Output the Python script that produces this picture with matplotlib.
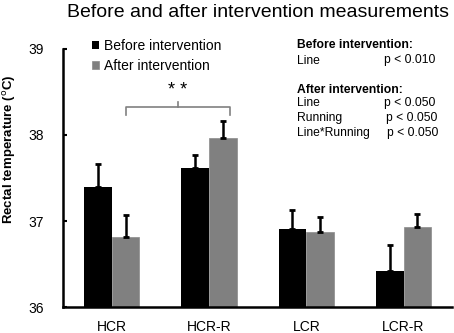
import matplotlib
matplotlib.use("Agg")
import matplotlib.pyplot as plt
import numpy as np

plt.rcParams['font.family'] = ['Liberation Sans', 'DejaVu Sans']

categories = ["HCR", "HCR-R", "LCR", "LCR-R"]
before = [37.40, 37.62, 36.91, 36.42]
before_err = [0.26, 0.15, 0.22, 0.30]
after = [36.82, 37.96, 36.87, 36.93]
after_err = [0.25, 0.20, 0.18, 0.15]
series_labels = ["Before intervention", "After intervention"]
yticks = [36, 37, 38, 39]

fig = plt.figure(figsize=(4.54, 3.33), dpi=100)
ax = fig.add_axes([0.139, 0.077, 0.857, 0.777])

x = np.arange(len(categories))
w = 0.285
base = 36
b1 = ax.bar(x - w/2, np.array(before) - base, w, bottom=base, color='black',
            label=series_labels[0])
b2 = ax.bar(x + w/2, np.array(after) - base, w, bottom=base, color='#808080',
            edgecolor='#8a8a8a', linewidth=0.5, label=series_labels[1])
ax.errorbar(x - w/2, before, yerr=[np.zeros(4), before_err], fmt='none',
            ecolor='black', elinewidth=1.8, capsize=2.5, capthick=2)
ax.errorbar(x + w/2, after, yerr=[np.zeros(4), after_err], fmt='none',
            ecolor='black', elinewidth=1.8, capsize=2.5, capthick=2)

ax.set_xlim(-0.5, 3.5)
ax.set_ylim(36, 39)
ax.set_yticks(yticks)
ax.set_yticklabels([str(t) for t in yticks], fontsize=10)
ax.set_xticks(x)
ax.set_xticklabels(categories, fontsize=10)
ax.tick_params(axis='x', length=0, pad=9)
ax.tick_params(axis='y', direction='in', length=3, width=1.5, pad=14)
for s in ['top', 'right']:
    ax.spines[s].set_visible(False)
ax.spines['left'].set_linewidth(1.8)
ax.spines['bottom'].set_linewidth(1.8)

# bracket
bx0, bx1 = 0.145, 1.215
ax.plot([bx0, bx0, bx1, bx1], [38.23, 38.32, 38.32, 38.23], color='#808080',
        lw=1.2, clip_on=False)
bm = (bx0 + bx1) / 2
ax.plot([bm, bm], [38.32, 38.38], color='#808080', lw=1.2, clip_on=False)
ax.text(bm, 38.42, "* *", ha='center', va='bottom', fontsize=13)

leg = ax.legend(handles=[b1, b2], loc='upper left', bbox_to_anchor=(0.06, 1.06),
                frameon=False, fontsize=10, handlelength=0.5, handleheight=0.5,
                handletextpad=0.35, labelspacing=0.45, borderaxespad=0)

fig.text(0.569, 0.962, "Before and after intervention measurements", ha='center',
         va='center', fontsize=14)
fig.text(0.02, 0.553, "Rectal temperature ($^{\\mathrm{o}}$C)", rotation=90,
         ha='center', va='center', fontsize=9.5, fontweight='bold')

fs = 8.7
tx = 297 / 454
px = 384 / 454
def yy(p):
    return 1 - p / 333
fig.text(tx, yy(45.5), "Before intervention:", fontsize=fs, fontweight='bold', va='center')
fig.text(tx, yy(60.5), "Line", fontsize=fs, va='center')
fig.text(px, yy(60.5), "p < 0.010", fontsize=fs, va='center')
fig.text(tx, yy(90), "After intervention:", fontsize=fs, fontweight='bold', va='center')
fig.text(tx, yy(103), "Line", fontsize=fs, va='center')
fig.text(px, yy(103), "p < 0.050", fontsize=fs, va='center')
fig.text(tx, yy(118), "Running", fontsize=fs, va='center')
fig.text(px + 2/454, yy(118), "p < 0.050", fontsize=fs, va='center')
fig.text(tx, yy(132.7), "Line*Running", fontsize=fs, va='center')
fig.text(px + 3/454, yy(132.7), "p < 0.050", fontsize=fs, va='center')

fig.savefig("out.png", dpi=100)
